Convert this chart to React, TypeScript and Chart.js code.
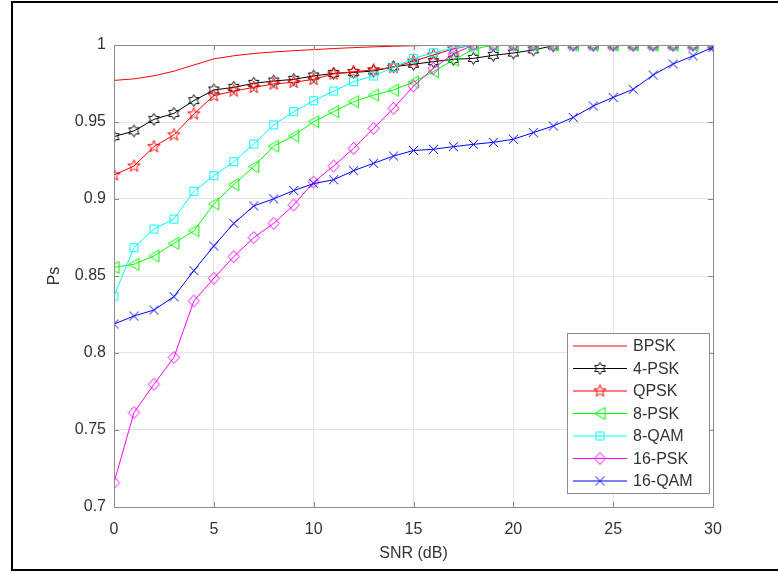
import React, { useEffect, useRef } from 'react';
import { Chart, registerables } from 'chart.js';

Chart.register(...registerables);

// ---------- data ----------
const snr = [0, 1, 2, 3, 4, 5, 6, 7, 8, 9, 10, 11, 12, 13, 14, 15, 16, 17, 18, 19, 20, 21, 22, 23, 24, 25, 26, 27, 28, 29, 30];

const bpsk = [0.977, 0.978, 0.98, 0.983, 0.987, 0.991, 0.993, 0.9945, 0.9955, 0.9963, 0.997, 0.9977, 0.9983, 0.9988, 0.9992, 0.9995, 0.9998, 0.9999, 1, 1, 1, 1, 1, 1, 1, 1, 1, 1, 1, 1, 1];
const psk4 = [0.9405, 0.9442, 0.9517, 0.9556, 0.9639, 0.9708, 0.9725, 0.9751, 0.9766, 0.9777, 0.9799, 0.9816, 0.9822, 0.9831, 0.9859, 0.9875, 0.9892, 0.9907, 0.9913, 0.9933, 0.9948, 0.9968, 0.9995, 1, 1, 1, 1, 1, 1, 1, 1];
const qpsk = [0.9156, 0.9214, 0.934, 0.9416, 0.9552, 0.9671, 0.9701, 0.9725, 0.9747, 0.9758, 0.9777, 0.9812, 0.9827, 0.9838, 0.9855, 0.9895, 0.9935, 0.9975, 1, 1, 1, 1, 1, 1, 1, 1, 1, 1, 1, 1, 1];
const psk8 = [0.8556, 0.8576, 0.863, 0.8712, 0.8794, 0.8968, 0.9094, 0.921, 0.9344, 0.9409, 0.9502, 0.9567, 0.9632, 0.9675, 0.9708, 0.976, 0.9827, 0.9903, 0.9972, 1, 1, 1, 1, 1, 1, 1, 1, 1, 1, 1, 1];
const qam8 = [0.837, 0.8684, 0.8805, 0.887, 0.905, 0.9151, 0.9242, 0.9357, 0.9481, 0.9567, 0.9638, 0.9701, 0.9762, 0.9799, 0.9855, 0.9913, 0.995, 0.998, 0.9997, 1, 1, 1, 1, 1, 1, 1, 1, 1, 1, 1, 1];
const psk16 = [0.7158, 0.7613, 0.7797, 0.7971, 0.8338, 0.8485, 0.8626, 0.8749, 0.8842, 0.8961, 0.911, 0.9214, 0.9329, 0.9459, 0.9589, 0.9734, 0.9849, 0.9942, 1, 1, 1, 1, 1, 1, 1, 1, 1, 1, 1, 1, 1];
const qam16 = [0.8188, 0.824, 0.8279, 0.8366, 0.8535, 0.8695, 0.8842, 0.8955, 0.9001, 0.9055, 0.91, 0.9125, 0.9184, 0.9232, 0.9279, 0.9315, 0.9323, 0.934, 0.9355, 0.9368, 0.9388, 0.9431, 0.9474, 0.953, 0.9604, 0.966, 0.9712, 0.9805, 0.9877, 0.9929, 0.9985];

const seriesNames = ['BPSK', '4-PSK', 'QPSK', '8-PSK', '8-QAM', '16-PSK', '16-QAM'];
const seriesValues = [bpsk, psk4, qpsk, psk8, qam8, psk16, qam16];
const seriesColors = ['#ff0000', '#000000', '#ff0000', '#00ff00', '#00ffff', '#ff00ff', '#0000ff'];
const seriesMarkers = ['none', 'hexagram', 'pentagram', 'triangleLeft', 'square', 'diamond', 'x'];

const xTickValues = [0, 5, 10, 15, 20, 25, 30];
const yTickLabels = ['0.7', '0.75', '0.8', '0.85', '0.9', '0.95', '1'];
const xTitle = 'SNR (dB)';
const yTitle = 'Ps';

const FONT = '"Liberation Sans", Arial, Helvetica, sans-serif';
const TEXT = '#333333';
const BOX = '#8c8c8c';
const GRID = '#e4e4e4';

function starPath(g: CanvasRenderingContext2D, cx: number, cy: number, ro: number, ri: number, n: number) {
  for (let i = 0; i < 2 * n; i++) {
    const r = i % 2 === 0 ? ro : ri;
    const a = -Math.PI / 2 + (i * Math.PI) / n;
    const px = cx + r * Math.cos(a);
    const py = cy + r * Math.sin(a);
    if (i === 0) g.moveTo(px, py);
    else g.lineTo(px, py);
  }
  g.closePath();
}

function makeMarker(type: string, color: string): HTMLCanvasElement | null {
  if (type === 'none') return null;
  const S = 17;
  const c = document.createElement('canvas');
  c.width = S;
  c.height = S;
  const g = c.getContext('2d')!;
  g.strokeStyle = color;
  g.lineWidth = 1;
  const cx = S / 2;
  const cy = S / 2;
  g.beginPath();
  switch (type) {
    case 'hexagram':
      starPath(g, cx, cy, 6, 3.5, 6);
      break;
    case 'pentagram':
      starPath(g, cx, cy, 6.5, 2.7, 5);
      break;
    case 'triangleLeft':
      g.moveTo(cx - 5.5, cy);
      g.lineTo(cx + 5, cy - 6);
      g.lineTo(cx + 5, cy + 6);
      g.closePath();
      break;
    case 'square':
      g.rect(cx - 4, cy - 4, 8, 8);
      break;
    case 'diamond':
      g.moveTo(cx, cy - 6);
      g.lineTo(cx + 5.5, cy);
      g.lineTo(cx, cy + 6);
      g.lineTo(cx - 5.5, cy);
      g.closePath();
      break;
    case 'x':
      g.moveTo(cx - 4.5, cy - 4.5);
      g.lineTo(cx + 4.5, cy + 4.5);
      g.moveTo(cx + 4.5, cy - 4.5);
      g.lineTo(cx - 4.5, cy + 4.5);
      break;
  }
  g.stroke();
  return c;
}

export default function App() {
  const canvasRef = useRef<HTMLCanvasElement | null>(null);

  useEffect(() => {
    const canvas = canvasRef.current;
    if (!canvas) return;
    Chart.defaults.font.family = FONT;

    const markers = seriesMarkers.map((m, i) => makeMarker(m, seriesColors[i]));

    const datasets = seriesNames.map((name, i) => ({
      label: name,
      data: snr.map((x, j) => ({ x, y: seriesValues[i][j] })),
      borderColor: seriesColors[i],
      backgroundColor: 'transparent',
      borderWidth: 1,
      pointStyle: (markers[i] || false) as any,
      pointRadius: markers[i] ? 5 : 0,
      pointHoverRadius: markers[i] ? 5 : 0,
      tension: 0,
      order: 20 - i,
    }));

    const frame = {
      id: 'matlabFrame',
      afterDraw(chart: any) {
        const ctx = chart.ctx as CanvasRenderingContext2D;
        const { left, right, top, bottom } = chart.chartArea;
        const xs = chart.scales.x;
        const ys = chart.scales.y;
        ctx.save();
        ctx.strokeStyle = BOX;
        ctx.lineWidth = 1;
        ctx.beginPath();
        ctx.rect(Math.round(left) + 0.5, Math.round(top) + 0.5, Math.round(right - left), Math.round(bottom - top));
        const tl = 5;
        xs.ticks.forEach((t: any) => {
          const px = Math.round(xs.getPixelForValue(t.value)) + 0.5;
          ctx.moveTo(px, bottom);
          ctx.lineTo(px, bottom - tl);
          ctx.moveTo(px, top);
          ctx.lineTo(px, top + tl);
        });
        ys.ticks.forEach((t: any) => {
          const py = Math.round(ys.getPixelForValue(t.value)) + 0.5;
          ctx.moveTo(left, py);
          ctx.lineTo(left + tl, py);
          ctx.moveTo(right, py);
          ctx.lineTo(right - tl, py);
        });
        ctx.stroke();

        // legend
        const lw = 142;
        const lh = 160;
        const lx = Math.round(right) - 4 - lw;
        const ly = Math.round(bottom) - 14 - lh;
        ctx.fillStyle = '#ffffff';
        ctx.fillRect(lx, ly, lw, lh);
        ctx.strokeStyle = BOX;
        ctx.strokeRect(lx + 0.5, ly + 0.5, lw, lh);
        ctx.font = '16px ' + FONT;
        ctx.textBaseline = 'middle';
        ctx.textAlign = 'left';
        seriesNames.forEach((name, i) => {
          const y = ly + 13 + i * 22.5;
          ctx.strokeStyle = seriesColors[i];
          ctx.beginPath();
          ctx.moveTo(lx + 6, y);
          ctx.lineTo(lx + 60, y);
          ctx.stroke();
          const mk = markers[i];
          if (mk) ctx.drawImage(mk, lx + 33 - mk.width / 2, y - mk.height / 2);
          ctx.fillStyle = TEXT;
          ctx.fillText(name, lx + 66, y + 1);
        });
        ctx.restore();
      },
    };

    const chart = new Chart(canvas, {
      type: 'line',
      data: { datasets: datasets as any },
      options: {
        animation: false,
        responsive: false,
        maintainAspectRatio: false,
        layout: { padding: { top: 45, right: 65, bottom: 0, left: 0 } },
        plugins: {
          legend: { display: false },
          tooltip: { enabled: false },
        },
        scales: {
          x: {
            type: 'linear',
            min: 0,
            max: 30,
            afterBuildTicks: (s: any) => {
              s.ticks = xTickValues.map((v) => ({ value: v }));
            },
            afterFit: (s: any) => {
              s.height = 66;
            },
            ticks: {
              color: TEXT,
              font: { size: 16 },
              padding: 13,
              maxRotation: 0,
              callback: (v: any) => String(v),
            },
            grid: { color: GRID, drawTicks: false },
            border: { display: false },
            title: {
              display: true,
              text: xTitle,
              color: TEXT,
              font: { size: 16 },
              padding: { top: 0, bottom: 10 },
            },
          },
          y: {
            type: 'linear',
            min: 0.7,
            max: 1,
            afterBuildTicks: (s: any) => {
              s.ticks = yTickLabels.map((l) => ({ value: parseFloat(l) }));
            },
            afterFit: (s: any) => {
              s.width = 114;
            },
            ticks: {
              color: TEXT,
              font: { size: 16 },
              padding: 8,
              callback: (v: any) => {
                const f = yTickLabels.find((l) => Math.abs(parseFloat(l) - Number(v)) < 1e-9);
                return f !== undefined ? f : String(v);
              },
            },
            grid: { color: GRID, drawTicks: false },
            border: { display: false },
            title: {
              display: true,
              text: yTitle,
              color: TEXT,
              font: { size: 16 },
              padding: { top: 45, bottom: 0 },
            },
          },
        },
      },
      plugins: [frame],
    });

    return () => {
      chart.destroy();
    };
  }, []);

  return (
    <div
      style={{
        position: 'fixed',
        left: 0,
        top: 0,
        width: 778,
        height: 573,
        overflow: 'hidden',
        background: '#ffffff',
      }}
    >
      <canvas
        ref={canvasRef}
        width={778}
        height={573}
        style={{ position: 'absolute', left: 0, top: 0, width: 778, height: 573, display: 'block' }}
      />
      <div
        style={{
          position: 'absolute',
          left: 11,
          top: 1,
          width: 800,
          height: 566,
          border: '2px solid #000000',
          pointerEvents: 'none',
        }}
      />
    </div>
  );
}
